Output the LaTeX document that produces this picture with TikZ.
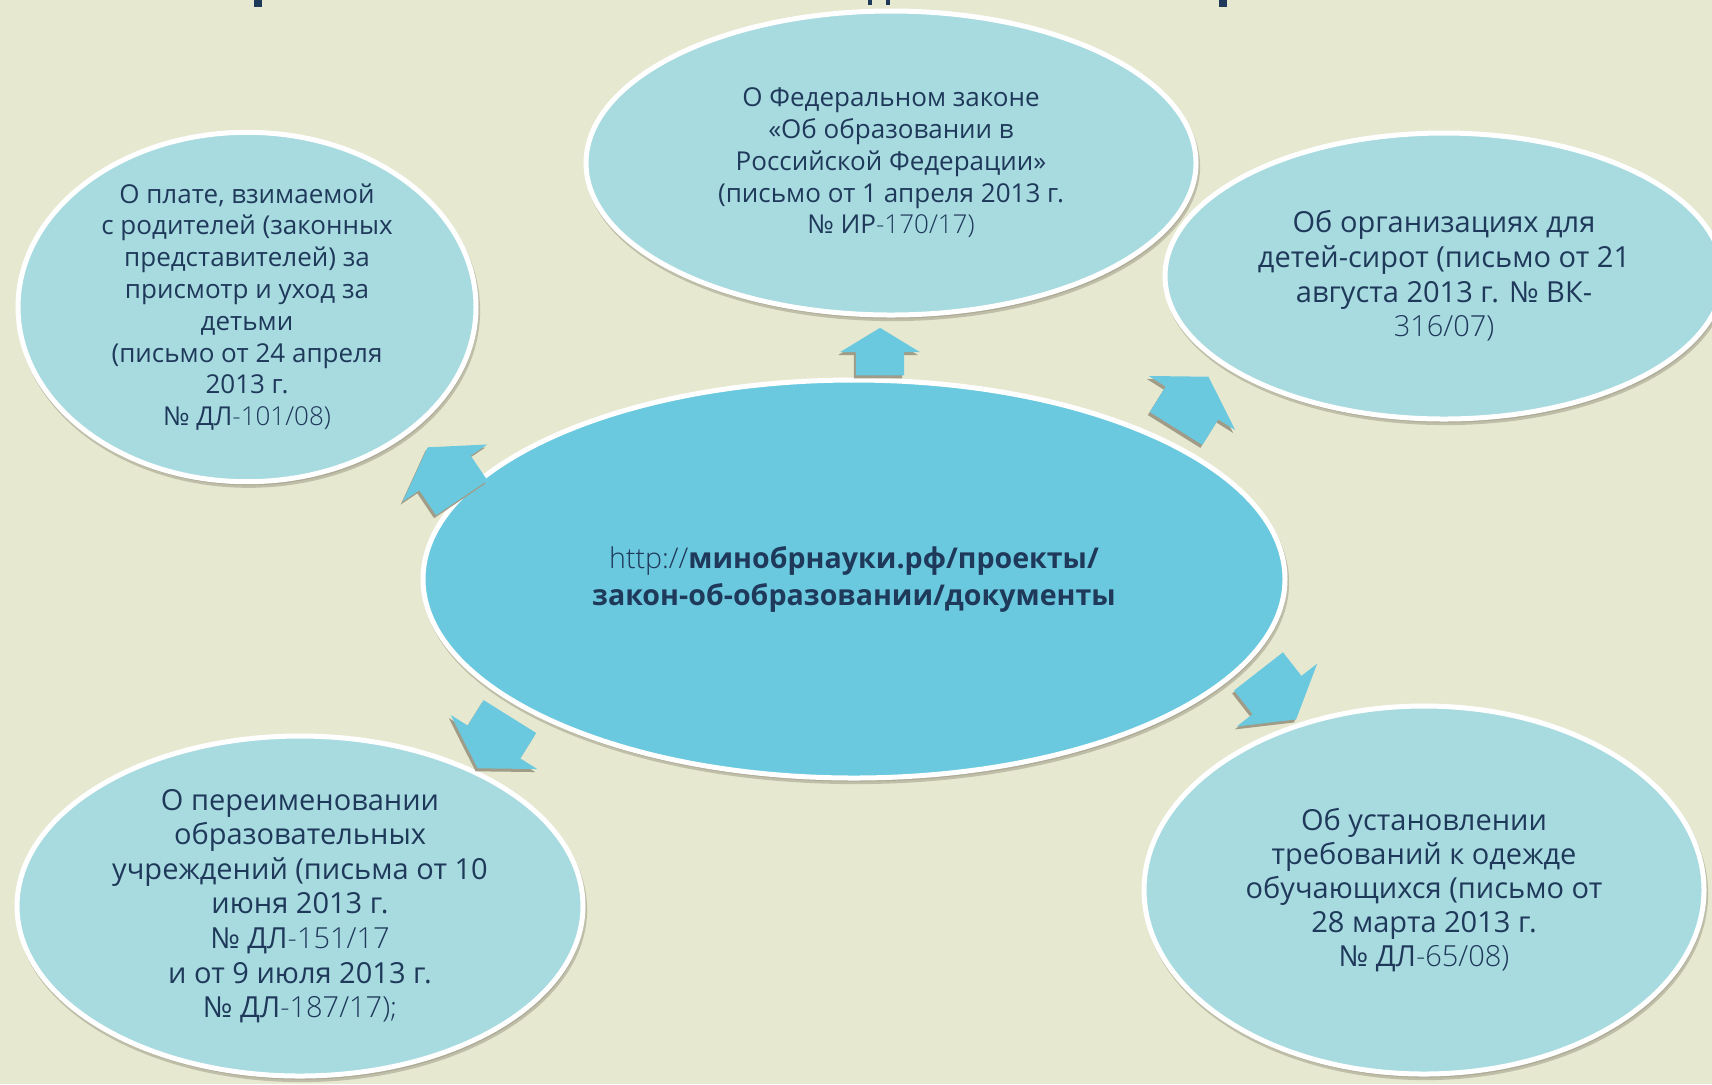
\documentclass[tikz,border=0pt]{standalone}
\usepackage{fontspec}
\setmainfont{Open Sans}
\newfontfamily\lt{Open Sans Light}
\usetikzlibrary{shapes.geometric,shadows}

\definecolor{bg}{RGB}{230,232,208}
\definecolor{pale}{RGB}{168,219,224}
\definecolor{sky}{RGB}{107,201,223}
\definecolor{navy}{RGB}{31,57,90}
\definecolor{shade}{RGB}{160,156,136}

\tikzset{
	blob/.style={ellipse, draw=white, line width=2.5pt, fill=pale, text=navy, align=center, inner sep=0pt,
		drop shadow={shadow xshift=0.8pt, shadow yshift=-1.8pt, fill=shade, draw=shade, line width=2.5pt, opacity=0.55}},
	pics/blockarrow/.style={code={
		\fill[sky, preaction={fill=shade, transform canvas={shift={(-1pt,-1.5pt)}}}]
			(-30,-31) -- (0,-31) -- (0,-51) -- (31,0) -- (0,51) -- (0,31) -- (-30,31) -- cycle;
	}}
}

\begin{document}
\begin{tikzpicture}[x=0.5pt, y=-0.5pt]
% Hintergrund
\useasboundingbox (0,0) rectangle (1712,1084);
\fill[bg] (0,0) rectangle (1712,1084);
% Reste der Ueberschrift
\fill[navy] (254,0) rectangle (262,7);
\fill[navy] (868,0) rectangle (872,5);
\fill[navy] (886,0) rectangle (890,5);
\fill[navy] (1219,0) rectangle (1227,7);

% Mitte
\node[blob, fill=sky, minimum width=431pt, minimum height=199pt, font=\fontsize{14.3}{18.5}\selectfont] (site) at (854,579)
	{{\lt http://}\textbf{минобрнауки.рф/проекты/}\\\textbf{закон-об-образовании/документы}};

% Briefe
\node[blob, minimum width=305pt, minimum height=152pt, font=\fontsize{13}{15.9}\selectfont] (law) at (891,163)
	{О Федеральном законе\\«Об образовании в\\Российской Федерации»\\(письмо от 1 апреля 2013 г.\\№ ИР{\lt-170/17)}};
\node[blob, minimum width=229pt, minimum height=171pt, font=\fontsize{13}{15.9}\selectfont] (fee) at (247,307)
	{О плате, взимаемой\\с родителей (законных\\представителей) за\\присмотр и уход за\\детьми\\(письмо от 24 апреля\\2013 г.\\№ ДЛ{\lt-101/08)}};
\node[blob, minimum width=279pt, minimum height=143pt, font=\fontsize{14.5}{17.3}\selectfont] (orphans) at (1444,276)
	{Об организациях для\\детей-сирот (письмо от 21\\августа 2013 г. № ВК-\\{\lt 316/07)}};
\node[blob, minimum width=283pt, minimum height=170pt, font=\fontsize{14.5}{17.3}\selectfont] (rename) at (300,906)
	{О переименовании\\образовательных\\учреждений (письма от 10\\июня 2013 г.\\№ ДЛ{\lt-151/17}\\и от 9 июля 2013 г.\\№ ДЛ{\lt-187/17);}};
\node[blob, minimum width=280pt, minimum height=184pt, font=\fontsize{14.5}{17}\selectfont] (uniform) at (1424,890)
	{Об установлении\\требований к одежде\\обучающихся (письмо от\\28 марта 2013 г.\\№ ДЛ{\lt-65/08)}};

% Pfeile
\pic[rotate=90, scale=0.78] at (880,352) {blockarrow};
\pic[rotate=124] at (445,473) {blockarrow};
\pic[rotate=58] at (1192,403) {blockarrow};
\pic[rotate=238] at (494,742) {blockarrow};
\pic[rotate=-52] at (1277,695) {blockarrow};
\end{tikzpicture}
\end{document}
